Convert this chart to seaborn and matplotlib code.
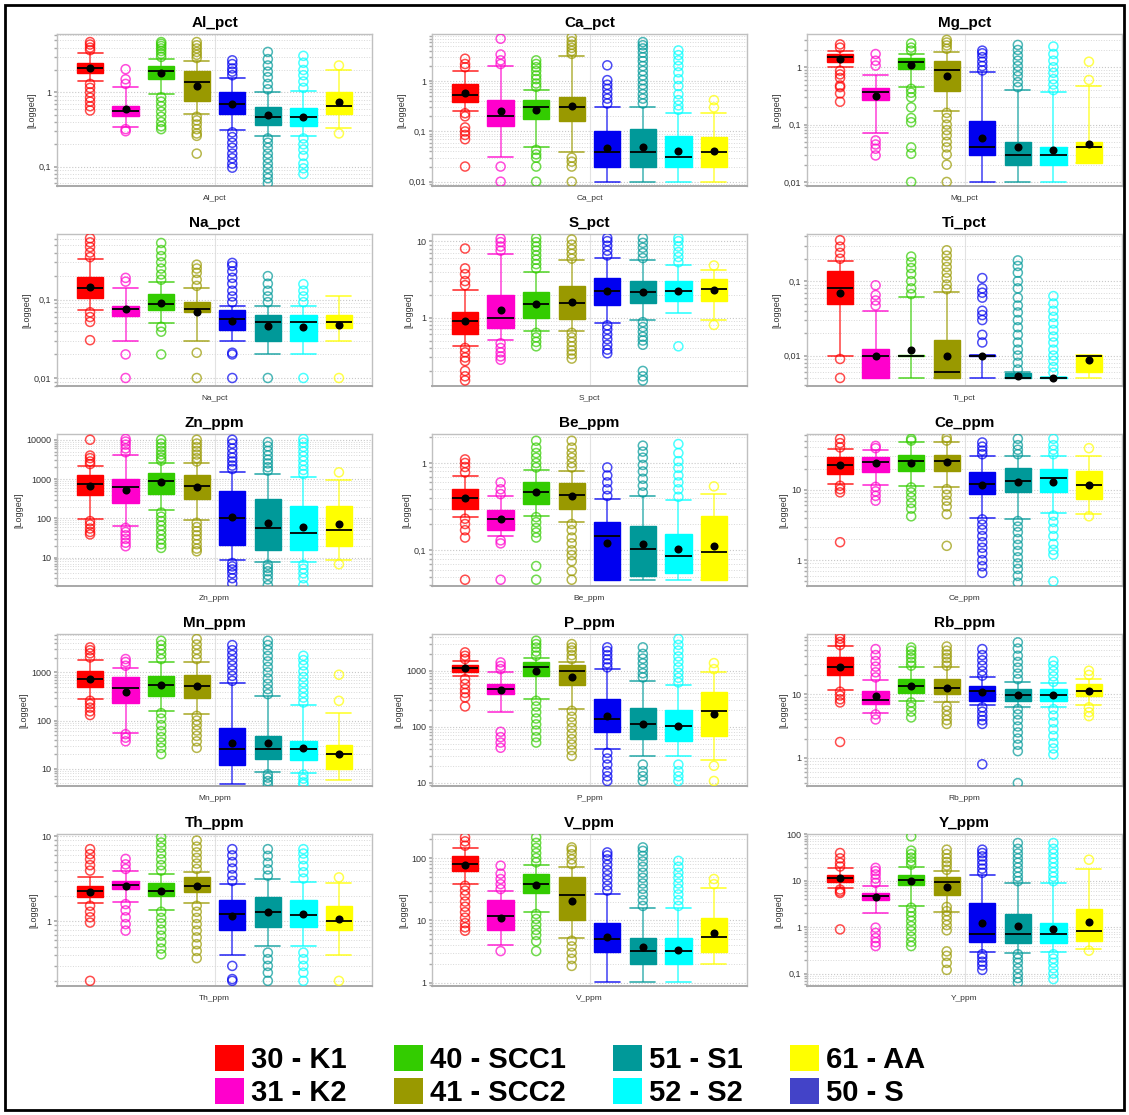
import numpy as np
import pandas as pd
import matplotlib
matplotlib.use("Agg")
import matplotlib.pyplot as plt
from matplotlib.patches import Patch, Rectangle
from matplotlib.ticker import LogLocator, NullFormatter, FuncFormatter
import seaborn as sns

# ---------------- data ----------------
GROUPS = ['30 - K1', '31 - K2', '40 - SCC1', '41 - SCC2', '50 - S', '51 - S1', '52 - S2', '61 - AA']
BOX_COLORS = ['#FF0000', '#FF00CC', '#33CC00', '#999900', '#0000F0', '#009999', '#00FFFF', '#FFFF00']
LEGEND_ORDER = ['30 - K1', '31 - K2', '40 - SCC1', '41 - SCC2', '51 - S1', '52 - S2', '61 - AA', '50 - S']
LEGEND_COLORS = {'30 - K1': '#FF0000', '31 - K2': '#FF00CC', '40 - SCC1': '#33CC00', '41 - SCC2': '#999900',
                 '51 - S1': '#009999', '52 - S2': '#00FFFF', '61 - AA': '#FFFF00', '50 - S': '#4343C8'}

AL_PCT = dict(
    whislo=[1.41, 0.34, 0.95, 0.51, 0.31, 0.26, 0.26, 0.33],
    q1=[1.81, 0.48, 1.51, 0.77, 0.51, 0.365, 0.355, 0.51],
    med=[2.11, 0.565, 1.92, 1.39, 0.70, 0.47, 0.47, 0.66],
    q3=[2.47, 0.66, 2.29, 1.96, 1.0, 0.64, 0.61, 1.02],
    whishi=[3.4, 1.17, 2.82, 2.62, 1.56, 1.0, 1.05, 2.0],
    mean=[2.1, 0.6, 1.81, 1.23, 0.69, 0.5, 0.47, 0.75],
    outliers=[[3.7, 4.0, 4.4, 4.75, 1.3, 1.15, 1.0, 0.85, 0.75, 0.65, 0.57],
              [1.3, 1.5, 2.05, 0.32, 0.3],
              [3.0, 3.3, 3.6, 3.9, 4.2, 4.5, 4.75, 0.86, 0.75, 0.65, 0.55, 0.47, 0.4, 0.35, 0.32],
              [2.9, 3.2, 3.5, 3.9, 4.3, 4.75, 0.47, 0.42, 0.37, 0.32, 0.28, 0.26, 0.15],
              [1.7, 1.9, 2.1, 2.4, 2.7, 0.29, 0.25, 0.21, 0.18, 0.15, 0.13, 0.11, 0.097],
              [1.1, 1.3, 1.6, 1.9, 2.3, 2.8, 3.5, 0.24, 0.21, 0.18, 0.15, 0.13, 0.11, 0.095, 0.08, 0.07, 0.06],
              [1.15, 1.4, 1.7, 2.0, 2.5, 3.1, 0.24, 0.2, 0.17, 0.14, 0.11, 0.095, 0.08],
              [2.3, 0.28]])

CA_PCT = dict(
    whislo=[0.26, 0.031, 0.05, 0.039, 0.01, 0.01, 0.01, 0.01],
    q1=[0.39, 0.13, 0.175, 0.165, 0.02, 0.02, 0.02, 0.02],
    med=[0.53, 0.2, 0.30, 0.30, 0.039, 0.039, 0.031, 0.039],
    q3=[0.87, 0.42, 0.42, 0.49, 0.1, 0.11, 0.08, 0.077],
    whishi=[1.6, 2.0, 0.66, 3.16, 0.3, 0.3, 0.23, 0.23],
    mean=[0.57, 0.25, 0.27, 0.32, 0.047, 0.05, 0.04, 0.041],
    outliers=[[1.9, 2.2, 2.8, 0.23, 0.2, 0.12, 0.1, 0.085, 0.07, 0.02],
              [2.2, 2.6, 3.4, 7.0, 0.02, 0.01],
              [0.77, 0.9, 1.1, 1.3, 1.6, 1.9, 2.2, 2.6, 0.043, 0.035, 0.03, 0.02, 0.01],
              [3.5, 4.0, 4.6, 5.3, 6.2, 7.5, 0.03, 0.025, 0.02, 0.01],
              [0.36, 0.45, 0.55, 0.7, 0.85, 1.05, 2.07],
              [0.36, 0.45, 0.55, 0.7, 0.85, 1.05, 1.3, 1.6, 2.0, 2.5, 3.0, 3.7, 4.5, 5.2, 6.0],
              [0.27, 0.33, 0.42, 0.55, 0.8, 1.1, 1.5, 2.0, 2.6, 3.3, 4.1],
              [0.3, 0.42]])

MG_PCT = dict(
    whislo=[1.0, 0.071, 0.46, 0.17, 0.01, 0.01, 0.01, 0.021],
    q1=[1.22, 0.27, 0.94, 0.39, 0.029, 0.02, 0.02, 0.021],
    med=[1.49, 0.37, 1.22, 0.9, 0.04, 0.03, 0.03, 0.04],
    q3=[1.71, 0.44, 1.45, 1.3, 0.115, 0.05, 0.04, 0.05],
    whishi=[1.95, 0.72, 1.7, 1.82, 0.82, 0.40, 0.37, 0.48],
    mean=[1.4, 0.31, 1.11, 0.69, 0.059, 0.04, 0.036, 0.045],
    outliers=[[2.2, 2.5, 0.87, 0.75, 0.65, 0.48, 0.45, 0.35, 0.25],
              [1.07, 1.3, 1.7, 0.053, 0.045, 0.038, 0.029],
              [1.95, 2.2, 2.6, 0.42, 0.36, 0.3, 0.2, 0.13, 0.11, 0.04, 0.031, 0.01],
              [2.1, 2.4, 2.7, 3.0, 0.16, 0.13, 0.1, 0.08, 0.065, 0.05, 0.04, 0.03, 0.02, 0.01],
              [0.88, 1.05, 1.25, 1.5, 1.75, 1.95],
              [0.45, 0.55, 0.7, 0.85, 1.05, 1.3, 1.6, 2.0, 2.45],
              [0.40, 0.5, 0.62, 0.8, 1.0, 1.3, 1.7, 2.3],
              [0.6, 1.25]])

NA_PCT = dict(
    whislo=[0.073, 0.03, 0.051, 0.03, 0.03, 0.02, 0.02, 0.03],
    q1=[0.105, 0.062, 0.073, 0.069, 0.041, 0.03, 0.03, 0.0435],
    med=[0.143, 0.076, 0.088, 0.076, 0.057, 0.052, 0.052, 0.052],
    q3=[0.195, 0.084, 0.118, 0.094, 0.074, 0.063, 0.063, 0.063],
    whishi=[0.326, 0.143, 0.169, 0.143, 0.084, 0.084, 0.084, 0.11],
    mean=[0.146, 0.075, 0.091, 0.07, 0.054, 0.046, 0.045, 0.048],
    outliers=[[0.35, 0.4, 0.47, 0.54, 0.61, 0.069, 0.06, 0.052, 0.0304],
              [0.17, 0.19, 0.02, 0.01],
              [0.18, 0.21, 0.25, 0.3, 0.36, 0.43, 0.53, 0.045, 0.039, 0.02],
              [0.15, 0.18, 0.22, 0.25, 0.28, 0.021, 0.01],
              [0.093, 0.11, 0.13, 0.16, 0.19, 0.23, 0.27, 0.295, 0.021, 0.02, 0.01],
              [0.093, 0.11, 0.13, 0.16, 0.2, 0.01],
              [0.093, 0.11, 0.13, 0.158, 0.01],
              [0.01]])

S_PCT = dict(
    whislo=[0.42, 0.51, 0.67, 0.67, 0.84, 0.93, 1.14, 0.93],
    q1=[0.6, 0.73, 1.0, 0.95, 1.46, 1.54, 1.65, 1.65],
    med=[0.89, 0.99, 1.49, 1.53, 2.22, 2.13, 2.22, 2.36],
    q3=[1.17, 1.97, 2.13, 2.6, 3.3, 2.99, 2.99, 3.17],
    whishi=[2.29, 6.85, 3.96, 5.6, 6.0, 5.6, 4.8, 4.16],
    mean=[0.89, 1.26, 1.49, 1.61, 2.22, 2.13, 2.22, 2.29],
    outliers=[[2.65, 3.0, 3.7, 4.4, 8.0, 0.4, 0.35, 0.3, 0.27, 0.2, 0.17, 0.15],
              [7.5, 8.5, 9.7, 10.8, 0.46, 0.4, 0.35, 0.31, 0.28],
              [4.4, 5.0, 5.7, 6.5, 7.5, 8.5, 9.7, 11.0, 0.63, 0.55, 0.48, 0.42],
              [5.9, 6.8, 7.8, 9.0, 10.5, 0.63, 0.55, 0.48, 0.42, 0.37, 0.33, 0.29],
              [6.5, 7.5, 8.7, 10.0, 11.0, 0.79, 0.7, 0.6, 0.52, 0.44, 0.38, 0.34],
              [6.0, 7.0, 8.2, 9.5, 11.0, 0.87, 0.75, 0.65, 0.56, 0.5, 0.44, 0.2, 0.17, 0.15],
              [5.3, 6.2, 7.2, 8.5, 10.0, 11.0, 0.42],
              [4.8, 0.8]])

TI_PCT = dict(
    whislo=[0.01, 0.005, 0.005, 0.005, 0.005, 0.005, 0.005, 0.005],
    q1=[0.05, 0.005, 0.01, 0.005, 0.01, 0.005, 0.005, 0.0061],
    med=[0.082, 0.01, 0.01, 0.0061, 0.01, 0.005, 0.005, 0.01],
    q3=[0.136, 0.0122, 0.0101, 0.0164, 0.0101, 0.0058, 0.0051, 0.0101],
    whishi=[0.184, 0.04, 0.062, 0.072, 0.0101, 0.006, 0.0052, 0.0101],
    mean=[0.069, 0.01, 0.0119, 0.01, 0.01, 0.0053, 0.005, 0.0088],
    outliers=[[0.2, 0.24, 0.29, 0.355, 0.009, 0.005],
              [0.047, 0.055, 0.065, 0.088],
              [0.067, 0.08, 0.1, 0.125, 0.15, 0.18, 0.214],
              [0.078, 0.09, 0.11, 0.13, 0.155, 0.185, 0.22, 0.26],
              [0.015, 0.019, 0.03, 0.035, 0.04, 0.06, 0.07, 0.08, 0.11],
              [0.0065, 0.008, 0.01, 0.012, 0.015, 0.019, 0.024, 0.03, 0.038, 0.047, 0.06, 0.08, 0.1, 0.13, 0.16, 0.19],
              [0.0059, 0.007, 0.0085, 0.01, 0.012, 0.015, 0.018, 0.022, 0.027, 0.033, 0.04, 0.05, 0.063],
              []])

ZN_PPM = dict(
    whislo=[97, 63, 160, 89, 8.9, 7.6, 7.6, 8.9],
    q1=[396, 243, 428, 319, 21.5, 15.4, 15.4, 19.5],
    med=[745, 611, 906, 674, 100, 58, 43, 52],
    q3=[1267, 1000, 1397, 1267, 500, 319, 207, 207],
    whishi=[2113, 4207, 2570, 2500, 1540, 1343, 1150, 940],
    mean=[674, 523, 820, 611, 110, 77, 60, 70],
    outliers=[[2400, 2800, 3400, 3960, 10000, 85, 70, 55, 45, 39],
              [4800, 6000, 7500, 9000, 10500, 57, 45, 37, 30, 24, 19.5],
              [2950, 3500, 4200, 5200, 6500, 8000, 10000, 140, 110, 85, 65, 50, 38, 29, 22, 17.7],
              [2800, 3400, 4200, 5200, 6500, 8000, 10000, 77, 60, 47, 37, 29, 22, 17, 14.5],
              [1800, 2200, 2800, 3500, 4500, 6000, 8000, 10000, 7.3, 6, 5, 4, 3, 2.2],
              [1640, 2000, 2500, 3100, 4000, 5200, 6800, 8700, 6.6, 5.5, 4.5, 3.6, 2.8, 2.0],
              [1343, 1700, 2200, 2900, 3800, 5000, 6600, 8500, 10500, 6.6, 5.2, 4, 3, 2.0],
              [1480, 6.8]])

BE_PPM = dict(
    whislo=[0.24, 0.144, 0.25, 0.21, 0.046, 0.046, 0.046, 0.046],
    q1=[0.30, 0.17, 0.34, 0.30, 0.046, 0.051, 0.055, 0.046],
    med=[0.40, 0.23, 0.47, 0.43, 0.144, 0.103, 0.086, 0.096],
    q3=[0.51, 0.29, 0.61, 0.59, 0.21, 0.19, 0.155, 0.25],
    whishi=[0.71, 0.42, 0.83, 0.82, 0.39, 0.42, 0.38, 0.44],
    mean=[0.40, 0.23, 0.47, 0.42, 0.12, 0.117, 0.103, 0.112],
    outliers=[[0.78, 0.9, 1.0, 1.1, 0.23, 0.2, 0.17, 0.14, 0.046],
              [0.44, 0.5, 0.6, 0.13, 0.12, 0.046],
              [0.89, 1.0, 1.15, 1.3, 1.5, 1.8, 0.24, 0.21, 0.18, 0.16, 0.14, 0.066, 0.046],
              [0.89, 1.0, 1.15, 1.3, 1.5, 1.8, 0.2, 0.17, 0.14, 0.12, 0.1, 0.088, 0.075, 0.058, 0.046],
              [0.42, 0.5, 0.6, 0.72, 0.89],
              [0.46, 0.55, 0.66, 0.8, 0.95, 1.15, 1.35, 1.58],
              [0.41, 0.5, 0.6, 0.72, 0.88, 1.05, 1.3, 1.65],
              [0.54]])

CE_PPM = dict(
    whislo=[12, 11.8, 11.4, 11, 4.0, 3.9, 4.7, 4.5],
    q1=[16.7, 17.7, 18.7, 18.7, 8.7, 9.4, 9.4, 7.4],
    med=[22.5, 24.6, 26, 26, 12, 13.4, 14.5, 11.7],
    q3=[29, 29, 31, 31, 17.7, 20.2, 19.7, 18.7],
    whishi=[38, 37, 47, 47, 30, 30, 30, 30.6],
    mean=[22.5, 24, 24, 24.6, 11.8, 13, 13.1, 11.7],
    outliers=[[40, 46, 53, 11.4, 10.2, 9.2, 1.8],
              [39, 42, 11, 9.5, 8.2, 7.0],
              [50, 53, 10.8, 9.2, 7.8, 6.5, 5.4, 4.2],
              [50, 55, 10.2, 8.5, 7, 5.8, 4.5, 1.6],
              [32, 36, 41, 47, 3.8, 3.2, 2.7, 2.2, 1.8, 1.5, 1.25, 1.0, 0.82, 0.66],
              [32, 37, 43, 53, 3.6, 3.0, 2.5, 2.0, 1.65, 1.35, 1.1, 0.9, 0.75, 0.6, 0.48],
              [32, 37, 43, 53, 4.3, 3.5, 2.8, 2.2, 1.7, 1.4, 1.2, 0.5],
              [39, 4.2]])

MN_PPM = dict(
    whislo=[278, 56, 159, 135, 4.9, 8.5, 8.2, 5.8],
    q1=[502, 237, 326, 301, 11.7, 16.2, 15.2, 10],
    med=[727, 464, 545, 527, 26, 26, 26, 19.9],
    q3=[1083, 815, 853, 893, 71, 48, 37.6, 30.6],
    whishi=[1837, 1212, 1668, 1615, 600, 316, 208, 142],
    mean=[727, 395, 545, 527, 34, 34, 27, 19.9],
    outliers=[[2050, 2500, 2900, 3320, 257, 220, 185, 155, 130],
              [1380, 1650, 1900, 52, 44, 37],
              [1900, 2400, 3000, 3700, 4560, 142, 110, 80, 60, 45, 35, 27, 20],
              [1900, 2400, 3000, 3800, 4950, 125, 100, 80, 62, 48, 37, 27],
              [670, 850, 1100, 1400, 1800, 2300, 2900, 3700],
              [354, 450, 580, 750, 1000, 1300, 1700, 2200, 2900, 3700, 4560, 7.6, 6.5, 5.5, 4.7],
              [237, 300, 380, 480, 620, 800, 1050, 1400, 1800, 2220, 7.5, 6.2, 5.2, 4.7],
              [257, 895]])

P_PPM = dict(
    whislo=[792, 180, 319, 205, 40.6, 30, 30, 25.5],
    q1=[934, 382, 792, 553, 79, 60, 56, 69],
    med=[1101, 470, 1147, 1000, 140, 111, 103, 192],
    q3=[1263, 577, 1450, 1263, 311, 220, 200, 421],
    whishi=[1510, 960, 1663, 1450, 1070, 662, 553, 934],
    mean=[1101, 451, 1000, 781, 156, 111, 103, 167],
    outliers=[[1620, 1850, 2130, 710, 580, 470, 400, 333, 230],
              [1070, 1220, 1410, 81, 65, 52, 42],
              [1860, 2200, 2600, 3000, 3450, 290, 230, 180, 140, 110, 85, 65, 52],
              [1620, 1900, 2300, 2600, 3000, 192, 150, 120, 95, 75, 60, 48, 38, 30],
              [1150, 1350, 1600, 1900, 2250, 2620, 34, 27, 21, 16, 13, 10.7],
              [760, 900, 1100, 1350, 1650, 2000, 2620, 21, 16, 13, 10.7],
              [618, 750, 920, 1150, 1450, 1800, 2300, 2900, 3690, 21, 16, 13, 10.7],
              [1070, 1370, 20, 10.7]])

RB_PPM = dict(
    whislo=[11.7, 5.1, 7.85, 7.4, 6.7, 6.2, 6.2, 6.7],
    q1=[20, 6.95, 10.4, 10.1, 7.85, 7.85, 7.85, 9.4],
    med=[26.4, 8.04, 13.5, 12.7, 11.3, 9.6, 9.6, 11.3],
    q3=[38, 11.3, 17.3, 17.0, 13.5, 12, 12, 14.4],
    whishi=[56.6, 16.8, 26.4, 26.4, 18.3, 15.6, 14.9, 17.3],
    mean=[26.4, 9.2, 13.5, 12.7, 10.9, 9.6, 9.6, 11.3],
    outliers=[[59, 66, 74, 83, 10.9, 9.5, 8.3, 7.4, 1.77],
              [18.3, 22, 27, 33, 41, 51, 4.8, 4.0],
              [28, 32, 37, 42, 48, 54, 7.4, 6.3, 5.3, 4.3],
              [28, 32, 37, 42, 48, 56, 6.5, 5.5, 4.6, 3.9, 3.4],
              [19.5, 23, 28, 34, 41, 51, 6.2, 5.3, 4.5, 3.9, 3.4, 0.79],
              [17.2, 21, 26, 32, 40, 52, 65, 5.8, 4.8, 3.9, 3.1, 2.5, 2.0, 1.6, 1.27, 0.4],
              [15.6, 19, 23, 28, 33, 5.8, 4.6, 3.6, 2.8, 2.2, 1.7, 1.4, 1.13],
              [20, 23.3, 6.2, 5.2, 4.5]])

TH_PPM = dict(
    whislo=[1.63, 1.7, 1.37, 1.63, 0.4, 0.51, 0.51, 0.4],
    q1=[1.92, 2.41, 1.97, 2.2, 0.8, 0.87, 0.87, 0.8],
    med=[2.3, 2.69, 2.3, 2.64, 1.22, 1.28, 1.19, 1.0],
    q3=[2.64, 3.02, 2.84, 3.31, 1.8, 1.92, 1.8, 1.53],
    whishi=[3.37, 3.97, 3.62, 3.79, 2.76, 3.16, 2.94, 2.84],
    mean=[2.24, 2.64, 2.3, 2.59, 1.15, 1.3, 1.22, 1.07],
    outliers=[[3.97, 4.6, 5.4, 6.2, 7.1, 1.53, 1.3, 1.12, 0.97, 0.2],
              [4.15, 4.7, 5.45, 1.6, 1.35, 1.12, 0.93, 0.78],
              [3.97, 4.6, 5.4, 6.3, 7.4, 8.5, 9.8, 1.3, 1.1, 0.95, 0.8, 0.68, 0.57, 0.48, 0.41],
              [4.15, 4.8, 5.6, 6.5, 7.6, 8.96, 1.53, 1.3, 1.1, 0.93, 0.78, 0.65, 0.54, 0.45, 0.37],
              [3.0, 3.5, 4.2, 5.0, 6.0, 7.1, 0.3, 0.21, 0.2],
              [3.46, 4.1, 4.9, 5.9, 7.1, 0.43, 0.36, 0.3, 0.25, 0.2],
              [3.2, 3.8, 4.5, 5.4, 6.3, 7.1, 0.43, 0.36, 0.3, 0.25, 0.2],
              [3.3, 0.2]])

V_PPM = dict(
    whislo=[38, 4.0, 13.7, 5.1, 1.03, 1.03, 1.03, 1.97],
    q1=[62.5, 7.0, 27.4, 10, 3.04, 1.97, 1.97, 3.04],
    med=[80, 11.8, 38.2, 25.4, 4.98, 3.16, 3.16, 5.3],
    q3=[109, 21.4, 55.3, 48.9, 9.2, 5.1, 5.1, 10.7],
    whishi=[143, 29.9, 77, 70.8, 26.4, 15.5, 15.5, 32.5],
    mean=[77, 10.7, 36.8, 20.6, 5.43, 3.66, 3.35, 6.2],
    outliers=[[158, 185, 215, 35.8, 30, 25, 20, 16.5, 13.5, 11, 9, 7.7, 6.8],
              [31.7, 38, 46, 56, 75.3, 3.2],
              [85, 100, 120, 145, 175, 215, 12.6, 10.5, 8.5, 7, 5.8, 4.6, 3.2],
              [80, 95, 115, 135, 148, 4.7, 3.8, 3.0, 2.4, 1.85],
              [30, 36, 44, 53, 64, 78, 95, 110, 123],
              [17, 21, 26, 32, 39, 48, 58, 72, 88, 108, 130, 148],
              [17, 21, 26, 32, 39, 48, 58, 72, 90],
              [38, 46]])

Y_PPM = dict(
    whislo=[7.0, 1.96, 2.9, 2.1, 0.29, 0.28, 0.29, 0.34],
    q1=[9.2, 3.8, 7.9, 5.0, 0.48, 0.46, 0.46, 0.5],
    med=[11.4, 4.6, 10.2, 9.2, 0.7, 0.7, 0.7, 0.82],
    q3=[13.4, 5.4, 13.4, 12.0, 3.3, 1.87, 1.24, 2.47],
    whishi=[18.7, 7.6, 19.3, 15.8, 13.4, 8.9, 8.9, 17.8],
    mean=[11.4, 4.47, 9.7, 7.3, 1.2, 1.05, 0.92, 1.28],
    outliers=[[20, 24, 30, 39, 6.4, 5.8, 5.4, 0.89],
              [8.9, 11, 13.5, 16, 18.7, 0.97, 0.75, 0.58, 0.47, 0.39],
              [22, 26, 31, 37, 44, 89, 2.6, 2.1, 1.7, 1.35, 1.05, 0.82, 0.62, 0.48, 0.39],
              [17, 21, 25, 30, 37, 46, 2.7, 2.2, 1.75, 1.4, 1.1, 0.85, 0.3, 0.24, 0.17, 0.12],
              [14.6, 18, 22, 27, 33, 39, 46, 0.26, 0.22, 0.18, 0.15, 0.12],
              [9.7, 12, 15, 19, 24, 30, 38, 48, 64, 0.26, 0.21, 0.17, 0.13, 0.1, 0.08, 0.064],
              [9.7, 12, 15, 19, 24, 30, 38, 48, 64, 0.26, 0.21, 0.17, 0.13, 0.1, 0.076],
              [28, 0.31]])

PANELS = [('Al_pct', AL_PCT), ('Ca_pct', CA_PCT), ('Mg_pct', MG_PCT),
          ('Na_pct', NA_PCT), ('S_pct', S_PCT), ('Ti_pct', TI_PCT),
          ('Zn_ppm', ZN_PPM), ('Be_ppm', BE_PPM), ('Ce_ppm', CE_PPM),
          ('Mn_ppm', MN_PPM), ('P_ppm', P_PPM), ('Rb_ppm', RB_PPM),
          ('Th_ppm', TH_PPM), ('V_ppm', V_PPM), ('Y_ppm', Y_PPM)]

YLIMS = {'Al_pct': (0.055, 6.1), 'Ca_pct': (0.0082, 8.7), 'Mg_pct': (0.0085, 3.8),
         'Na_pct': (0.0079, 0.69), 'S_pct': (0.127, 12.4), 'Ti_pct': (0.0039, 0.43),
         'Zn_ppm': (1.9, 14000), 'Be_ppm': (0.039, 2.15), 'Ce_ppm': (0.43, 62),
         'Mn_ppm': (4.35, 6300), 'P_ppm': (8.7, 4540), 'Rb_ppm': (0.36, 88),
         'Th_ppm': (0.174, 10.7), 'V_ppm': (0.88, 243), 'Y_ppm': (0.054, 100)}

# ---------------- style ----------------
sns.set_theme(style='white')
plt.rcParams['font.family'] = ['Liberation Sans', 'DejaVu Sans']
plt.rcParams['text.color'] = 'black'

W, H = 1129, 1115
fig = plt.figure(figsize=(W / 100, H / 100), dpi=100)
fig.patch.set_facecolor('white')

COL_LEFT = [57, 432, 807]
AX_W, AX_H = 315, 152
BOX_W = 0.74


def fmt_tick(v, pos):
    return f'{v:g}'.replace('.', ',')


for i, (name, d) in enumerate(PANELS):
    r, c = divmod(i, 3)
    top = 34 + 200 * r
    ax = fig.add_axes([COL_LEFT[c] / W, 1 - (top + AX_H) / H, AX_W / W, AX_H / H])
    ax.set_facecolor('white')

    rows = []
    for g, a, b, m, q, e in zip(GROUPS, d['whislo'], d['q1'], d['med'], d['q3'], d['whishi']):
        for v in (a, b, m, q, e):
            rows.append((g, v))
    box_df = pd.DataFrame(rows, columns=['group', 'value'])

    sns.boxplot(data=box_df, x='group', y='value', hue='group', order=GROUPS, hue_order=GROUPS,
                palette=BOX_COLORS, saturation=1, whis=(0, 100), showfliers=False,
                width=BOX_W, linewidth=1.0, legend=False, log_scale=True, ax=ax,
                medianprops=dict(color='black', linewidth=1.3))

    # colour whiskers/caps/box edges like the box fill
    for cont in ax.containers:
        if not hasattr(cont, 'boxes'):
            continue
        for bx in cont.boxes:
            bx.set_edgecolor(bx.get_facecolor())
        col = cont.boxes[0].get_facecolor()
        for wl in cont.whiskers:
            wl.set_color(col)
            wl.set_alpha(0.75)
            wl.set_linewidth(1.1)
        for cp in cont.caps:
            cp.set_color(col)
            cp.set_alpha(0.8)
            cp.set_linewidth(1.2)
            xd = np.asarray(cp.get_xdata(), dtype=float)
            ctr = xd.mean()
            half = BOX_W / 2 * 0.95
            cp.set_xdata([ctr - half, ctr + half])

    # outliers
    orows = []
    for g, outs in zip(GROUPS, d['outliers']):
        for v in outs:
            orows.append((g, v))
    out_df = pd.DataFrame(orows, columns=['group', 'value'])
    n_before = len(ax.collections)
    sns.stripplot(data=out_df, x='group', y='value', hue='group', order=GROUPS, hue_order=GROUPS,
                  palette=BOX_COLORS, jitter=False, size=6.5, legend=False, ax=ax, zorder=3)
    for coll in ax.collections[n_before:]:
        fc = coll.get_facecolors().copy()
        if len(fc):
            fc[:, 3] = 0.7
        coll.set_edgecolors(fc)
        coll.set_facecolors('none')
        coll.set_linewidths(1.1)

    # means
    sns.stripplot(x=GROUPS, y=d['mean'], order=GROUPS, color='black', jitter=False,
                  size=5.8, ax=ax, zorder=5)

    ax.set_yscale('log')
    ax.set_ylim(*YLIMS[name])
    ax.set_xlim(-0.93, 7.93)
    ax.yaxis.set_major_locator(LogLocator(base=10, numticks=12))
    ax.yaxis.set_minor_locator(LogLocator(base=10, subs=np.arange(2, 10), numticks=12))
    ax.yaxis.set_major_formatter(FuncFormatter(fmt_tick))
    ax.yaxis.set_minor_formatter(NullFormatter())
    ax.set_xticks([3.5])
    ax.set_xticklabels([''])
    ax.tick_params(axis='x', length=0)
    ax.tick_params(axis='y', which='both', labelsize=6.5, length=2, color='#aaaaaa',
                   pad=2, left=True, labelcolor='#333333')
    ax.grid(True, axis='y', which='major', color='#c8c8c8', lw=0.8, ls=':')
    ax.grid(True, axis='y', which='minor', color='#d8d8d8', lw=0.7, ls=':')
    ax.grid(True, axis='x', which='major', color='#e2e2e2', lw=0.8, ls='-')
    ax.set_axisbelow(True)
    for sp in ax.spines.values():
        sp.set_color('#c0c0c0')
        sp.set_linewidth(1.0)
    ax.spines['bottom'].set_color('#a8a8a8')
    ax.spines['bottom'].set_linewidth(1.4)

    ax.set_title(name, fontsize=11, fontweight='bold', pad=5, color='black')
    ax.set_xlabel(name, fontsize=6, labelpad=3, color='#333333')
    ax.set_ylabel('[Logged]', fontsize=6.5, labelpad=2, color='#333333')

# legend
handles = [Patch(facecolor=LEGEND_COLORS[g], edgecolor='none') for g in LEGEND_ORDER]
leg = fig.legend(handles, LEGEND_ORDER, ncol=4, loc='center', bbox_to_anchor=(0.505, 0.035),
                 frameon=False, prop=dict(family='Liberation Sans', weight='bold', size=21),
                 handlelength=1.0, handleheight=1.0, handletextpad=0.25, columnspacing=1.6,
                 labelspacing=0.12, borderpad=0)
for t in leg.get_texts():
    t.set_color('black')

# outer frame
fig.add_artist(Rectangle((5 / W, 5 / H), (1124 - 5) / W, (1110 - 5) / H, transform=fig.transFigure,
                         fill=False, edgecolor='black', linewidth=2))

fig.savefig('out.png', dpi=100)
